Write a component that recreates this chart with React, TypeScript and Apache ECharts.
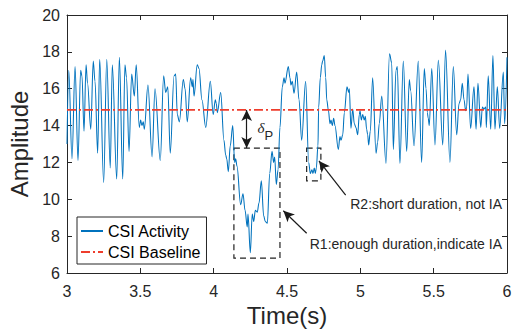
import React, { useEffect, useRef } from 'react';
import * as echarts from 'echarts';

const TIME = [
  3.000, 3.012, 3.034, 3.055, 3.075, 3.093, 3.102, 3.116, 3.130, 3.140, 3.162, 3.179, 3.191, 3.209, 3.223, 3.250,
  3.271, 3.295, 3.309, 3.339, 3.357, 3.380, 3.395, 3.406, 3.423, 3.441, 3.459, 3.472, 3.493, 3.502, 3.511, 3.520,
  3.527, 3.552, 3.580, 3.600, 3.636, 3.659, 3.673, 3.687, 3.704, 3.730, 3.741, 3.752, 3.766, 3.793, 3.805, 3.820,
  3.843, 3.854, 3.859, 3.866, 3.888, 3.900, 3.920, 3.946, 3.977, 3.997, 4.011, 4.018, 4.025, 4.048, 4.070, 4.082,
  4.089, 4.100, 4.113, 4.130, 4.143, 4.150, 4.159, 4.184, 4.200, 4.214, 4.229, 4.234, 4.250, 4.263, 4.273, 4.284,
  4.297, 4.309, 4.325, 4.341, 4.352, 4.366, 4.382, 4.398, 4.409, 4.416, 4.427, 4.439, 4.452, 4.468, 4.480, 4.486,
  4.509, 4.520, 4.527, 4.536, 4.548, 4.566, 4.582, 4.600, 4.627, 4.648, 4.659, 4.670, 4.677, 4.686, 4.693, 4.700,
  4.711, 4.716, 4.727, 4.737, 4.743, 4.754, 4.764, 4.771, 4.782, 4.793, 4.800, 4.809, 4.818, 4.827, 4.850, 4.861,
  4.868, 4.880, 4.891, 4.909, 4.921, 4.925, 4.936, 4.948, 4.959, 4.970, 4.982, 4.993, 4.998, 5.007, 5.016, 5.027,
  5.034, 5.043, 5.050, 5.057, 5.068, 5.084, 5.107, 5.118, 5.129, 5.146, 5.175, 5.199, 5.214, 5.225, 5.243, 5.252,
  5.270, 5.293, 5.316, 5.334, 5.343, 5.366, 5.395, 5.418, 5.436, 5.448, 5.457, 5.463, 5.470, 5.487, 5.509, 5.532,
  5.562, 5.581, 5.611, 5.634, 5.657, 5.673, 5.684, 5.695, 5.707, 5.718, 5.725, 5.734, 5.752, 5.775, 5.789, 5.802,
  5.821, 5.832, 5.843, 5.855, 5.859, 5.872, 5.889, 5.904, 5.918, 5.934, 5.950, 5.975, 5.984, 6.000,
];

const AMP = [
  13.0, 17.0, 12.2, 17.2, 12.1, 17.0, 16.7, 13.7, 17.3, 16.3, 13.8, 17.5, 16.4, 12.5, 17.6, 10.9,
  17.6, 11.7, 17.3, 11.1, 17.7, 11.1, 17.3, 16.6, 12.6, 16.8, 15.6, 17.3, 13.9, 14.3, 14.0, 14.2,
  13.8, 16.2, 12.3, 16.0, 12.1, 16.7, 15.8, 16.1, 12.5, 16.7, 16.8, 14.6, 14.2, 16.5, 16.0, 14.2,
  16.6, 16.1, 16.5, 15.6, 17.3, 17.1, 15.4, 13.9, 16.4, 14.6, 15.4, 15.2, 14.7, 15.8, 13.2, 12.4,
  12.2, 11.5, 12.9, 14.0, 12.0, 12.2, 11.8, 9.7, 10.3, 9.4, 8.5, 9.2, 7.1, 9.2, 8.8, 9.4,
  9.3, 9.8, 11.0, 9.1, 8.8, 8.7, 11.4, 12.6, 12.0, 12.3, 10.8, 11.6, 13.9, 16.1, 16.6, 16.3,
  17.2, 16.6, 16.2, 16.4, 15.75, 16.9, 15.4, 13.2, 16.4, 12.0, 11.4, 11.6, 11.4, 11.7, 11.4, 11.7,
  12.9, 15.0, 16.6, 17.3, 17.5, 17.8, 16.6, 15.4, 14.85, 14.1, 14.3, 14.0, 14.4, 14.0, 12.7, 13.4,
  13.2, 13.5, 14.7, 16.1, 15.8, 16.0, 13.85, 14.9, 14.1, 13.9, 13.5, 14.6, 14.8, 14.3, 14.6, 14.3,
  14.5, 13.8, 13.5, 12.95, 13.7, 16.6, 12.5, 13.1, 14.1, 15.6, 11.95, 17.9, 17.4, 12.7, 17.0, 17.2,
  11.95, 17.5, 12.6, 16.5, 15.9, 12.9, 17.5, 12.0, 17.1, 16.0, 14.7, 14.4, 14.0, 17.1, 12.95, 17.55,
  12.95, 18.1, 12.0, 17.2, 13.5, 15.2, 15.4, 16.3, 15.4, 14.8, 15.0, 16.8, 13.85, 16.1, 13.8, 16.3,
  13.9, 15.0, 14.9, 15.0, 13.9, 16.7, 13.8, 17.8, 13.8, 16.1, 13.85, 16.9, 14.1, 17.7,
];

const BASELINE_T = [3, 6];
const BASELINE_V = [14.85, 14.85];

const SERIES_NAMES = ['CSI Activity', 'CSI Baseline'];

// region boxes: [tStart, ampTop], [tEnd, ampBottom]
const R1_BOX = [[4.138, 12.78], [4.452, 6.81]];
const R2_BOX = [[4.634, 12.78], [4.731, 11.0]];

// arrows: [tail, head]
const DELTA_ARROW = [[4.225, 14.85], [4.225, 12.78]];
const R2_ARROW = [[4.9, 10.23], [4.718, 12.08]];
const R1_ARROW = [[4.634, 8.16], [4.475, 9.38]];

const R1_LABEL = 'R1:enough duration,indicate IA';
const R2_LABEL = 'R2:short duration, not IA';

const FONT = 'Liberation Sans, Arial, Helvetica, sans-serif';
const AXIS_COLOR = '#262626';

export default function App() {
  const ref = useRef<HTMLDivElement>(null);

  useEffect(() => {
    if (!ref.current) return;
    const chart = echarts.init(ref.current, null, { renderer: 'svg' });

    const activity = TIME.map((t, i) => [t, AMP[i]]);
    const baseline = BASELINE_T.map((t, i) => [t, BASELINE_V[i]]);

    const axisLine = { show: true, onZero: false, lineStyle: { color: AXIS_COLOR, width: 1 } };
    const axisTick = { show: true, inside: true, length: 5, lineStyle: { color: AXIS_COLOR, width: 1 } };

    const option: any = {
      animation: false,
      backgroundColor: '#ffffff',
      grid: {
        left: 67,
        right: 8,
        top: 15,
        bottom: 60,
        containLabel: false,
        outerBoundsMode: 'none',
      },
      xAxis: [
        {
          type: 'value',
          min: 3,
          max: 6,
          interval: 0.5,
          position: 'bottom',
          axisLine,
          axisTick,
          splitLine: { show: false },
          axisLabel: { fontSize: 16, color: AXIS_COLOR, margin: 10, fontFamily: FONT },
          name: 'Time(s)',
          nameLocation: 'middle',
          nameGap: 30,
          nameTextStyle: { fontSize: 24, color: AXIS_COLOR, fontFamily: FONT },
        },
        {
          type: 'value',
          min: 3,
          max: 6,
          interval: 0.5,
          position: 'top',
          axisLine,
          axisTick,
          splitLine: { show: false },
          axisLabel: { show: false },
        },
      ],
      yAxis: [
        {
          type: 'value',
          min: 6,
          max: 20,
          interval: 2,
          position: 'left',
          axisLine,
          axisTick,
          splitLine: { show: false },
          axisLabel: { fontSize: 16, color: AXIS_COLOR, margin: 7, fontFamily: FONT },
          name: 'Amplitude',
          nameLocation: 'middle',
          nameGap: 25,
          nameTextStyle: { fontSize: 24, color: AXIS_COLOR, fontFamily: FONT },
        },
        {
          type: 'value',
          min: 6,
          max: 20,
          interval: 2,
          position: 'right',
          axisLine,
          axisTick,
          splitLine: { show: false },
          axisLabel: { show: false },
        },
      ],
      legend: {
        data: SERIES_NAMES,
        orient: 'vertical',
        left: 77,
        top: 217,
        backgroundColor: '#ffffff',
        borderColor: AXIS_COLOR,
        borderWidth: 1,
        borderRadius: 0,
        padding: [6, 6, 4, 3],
        itemGap: 5,
        itemWidth: 22,
        itemHeight: 14,
        itemStyle: { opacity: 0 },
        textStyle: { fontSize: 16, color: '#000000', fontFamily: FONT },
      },
      series: [
        {
          name: SERIES_NAMES[0],
          type: 'line',
          data: activity,
          symbol: 'none',
          smooth: 0.35,
          smoothMonotone: 'x',
          lineStyle: { color: '#0072BD', width: 1.05 },
          itemStyle: { color: '#0072BD' },
          markArea: {
            silent: true,
            label: { show: false },
            itemStyle: {
              color: 'rgba(0,0,0,0)',
              borderColor: '#222222',
              borderWidth: 1.2,
              borderType: [6, 4],
              opacity: 1,
            },
            data: [
              [{ coord: R1_BOX[0] }, { coord: R1_BOX[1] }],
              [{ coord: R2_BOX[0] }, { coord: R2_BOX[1] }],
            ],
          },
          markLine: {
            silent: true,
            symbolSize: [8, 11],
            label: { show: false },
            lineStyle: { color: '#1a1a1a', width: 1.2, type: 'solid' },
            itemStyle: { color: '#1a1a1a', opacity: 1 },
            emphasis: { disabled: true },
            data: [
              [
                { coord: DELTA_ARROW[0], symbol: 'arrow' },
                { coord: DELTA_ARROW[1], symbol: 'arrow' },
              ],
              [
                { coord: R2_ARROW[0], symbol: 'none' },
                { coord: R2_ARROW[1], symbol: 'arrow' },
              ],
              [
                { coord: R1_ARROW[0], symbol: 'none' },
                { coord: R1_ARROW[1], symbol: 'arrow' },
              ],
            ],
          },
          z: 2,
        },
        {
          name: SERIES_NAMES[1],
          type: 'line',
          data: baseline,
          symbol: 'none',
          lineStyle: { color: '#ee3d2c', width: 1.6, type: [9, 3, 2, 3] },
          itemStyle: { color: '#ee3d2c' },
          z: 3,
        },
      ],
      graphic: [
        {
          type: 'text',
          x: 502,
          y: 204,
          style: {
            text: R2_LABEL,
            align: 'right',
            verticalAlign: 'middle',
            fontSize: 14,
            fontFamily: FONT,
            fill: AXIS_COLOR,
          },
        },
        {
          type: 'text',
          x: 502,
          y: 243.5,
          style: {
            text: R1_LABEL,
            align: 'right',
            verticalAlign: 'middle',
            fontSize: 14,
            fontFamily: FONT,
            fill: AXIS_COLOR,
          },
        },
        {
          type: 'text',
          x: 257.5,
          y: 128,
          style: {
            text: 'δ',
            align: 'left',
            verticalAlign: 'middle',
            fontSize: 15,
            fontStyle: 'italic',
            fontFamily: 'Liberation Serif, DejaVu Serif, serif',
            fill: AXIS_COLOR,
          },
        },
        {
          type: 'text',
          x: 264.5,
          y: 135.5,
          style: {
            text: 'P',
            align: 'left',
            verticalAlign: 'middle',
            fontSize: 13,
            fontFamily: FONT,
            fill: AXIS_COLOR,
          },
        },
      ],
    };

    chart.setOption(option);
    return () => chart.dispose();
  }, []);

  return (
    <div
      ref={ref}
      style={{ position: 'fixed', left: 0, top: 0, width: 515, height: 333, background: '#ffffff' }}
    />
  );
}
